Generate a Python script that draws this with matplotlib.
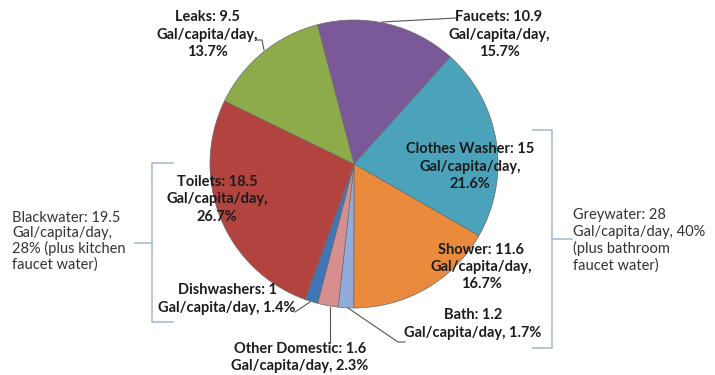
import matplotlib.pyplot as plt

plt.rcParams['font.family'] = ['Lato', 'DejaVu Sans']

# 各用途用水量 (Gal/capita/day)，顺时针顺序
names = ['Faucets', 'Clothes Washer', 'Shower', 'Bath', 'Other Domestic',
         'Dishwashers', 'Toilets', 'Leaks']
gallons = [10.9, 15, 11.6, 1.2, 1.6, 1, 18.5, 9.5]
percents = [15.7, 21.6, 16.7, 1.7, 2.3, 1.4, 26.7, 13.7]
colors = ['#7b5999', '#4aa2bb', '#e98a3d', '#91acd9', '#d78e8f',
          '#3f76b8', '#b2433f', '#8eab4c']

black_label = 'Blackwater: 19.5\nGal/capita/day,\n28% (plus kitchen\nfaucet water)'
grey_label = 'Greywater: 28\nGal/capita/day, 40%\n(plus bathroom\nfaucet water)'

W, H = 715, 375
fig = plt.figure(figsize=(W / 100, H / 100), dpi=100)
ax = fig.add_axes([0, 0, 1, 1])

def Y(y):
    # 像素坐标 (从上往下) 转为数据坐标
    return H - y

ax.pie(gallons, colors=colors, startangle=104.7, counterclock=False,
       center=(354, Y(164)), radius=144, frame=True,
       wedgeprops=dict(edgecolor='#6a6a6a', linewidth=0.5))
ax.set_xlim(0, W)
ax.set_ylim(0, H)
ax.set_aspect('equal')
ax.axis('off')

# 标签位置 (像素)
label_pos = {
    'Faucets': (499, 34.5, '{0}: {1}\nGal/capita/day,\n{2}%'),
    'Clothes Washer': (470, 166.5, '{0}: {1}\nGal/capita/day,\n{2}%'),
    'Shower': (481, 267, '{0}: {1}\nGal/capita/day,\n{2}%'),
    'Bath': (473, 324, '{0}: {1}\nGal/capita/day, {2}%'),
    'Other Domestic': (300, 357.5, '{0}: {1}\nGal/capita/day, {2}%'),
    'Dishwashers': (227, 299, '{0}: {1}\nGal/capita/day, {2}%'),
    'Toilets': (217, 199.5, '{0}: {1}\nGal/capita/day,\n{2}%'),
    'Leaks': (207, 34.5, '{0}: {1}\nGal/capita/day,\n{2}%'),
}
for n, g, p in zip(names, gallons, percents):
    x, y, fmt = label_pos[n]
    ax.text(x, Y(y), fmt.format(n, g, p), ha='center', va='center',
            multialignment='center', fontsize=10.5, fontweight='bold',
            color='#1c1c1c', linespacing=1.3)

# 引线
lc = '#555555'
leaders = [
    ([256, 262, 264], [40, 40, 50]),
    ([382, 456], [22, 18]),
    ([295, 310], [312, 302]),
    ([330, 330], [307, 342]),
    ([348, 398, 405], [308, 342, 342]),
]
for xs, ys in leaders:
    ax.plot(xs, [Y(v) for v in ys], color=lc, lw=0.8)

# 分组括号
bc = '#a9bbd1'
ax.plot([173, 152, 152, 173], [Y(163), Y(163), Y(322), Y(322)], color=bc, lw=1.2)
ax.plot([135, 152], [Y(242.5), Y(242.5)], color=bc, lw=1.2)
ax.plot([533, 552, 552, 533], [Y(130), Y(130), Y(348), Y(348)], color=bc, lw=1.2)
ax.plot([552, 572], [Y(239), Y(239)], color=bc, lw=1.2)

ax.text(12, Y(241.5), black_label, ha='left', va='center', fontsize=10.5,
        color='#333333', linespacing=1.1)
ax.text(573, Y(240.5), grey_label, ha='left', va='center', fontsize=10.5,
        color='#333333', linespacing=1.2)

fig.savefig('out.png', dpi=100)
